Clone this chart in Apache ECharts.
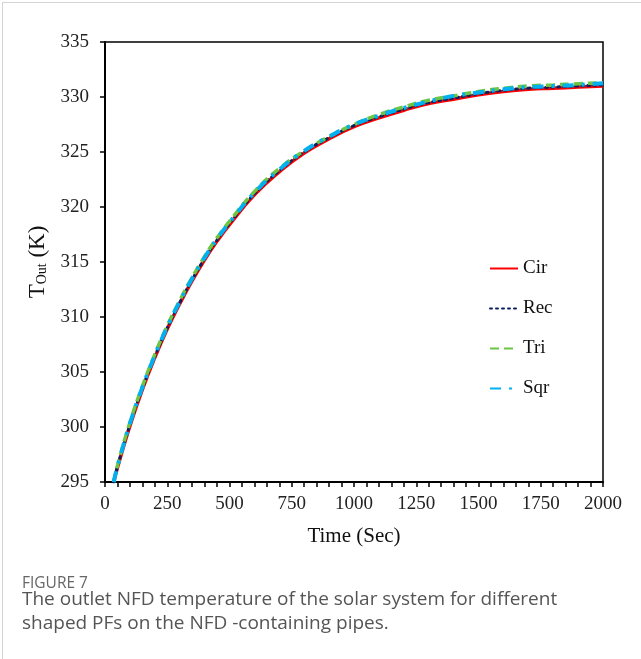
<!DOCTYPE html>
<html lang="en">
<head>
<meta charset="UTF-8">
<title>Figure 7</title>
<style>
  body { margin: 0; background: #fff; }
  #frame { position: absolute; left: 2px; top: 2px; width: 639px; height: 657px;
           border-left: 1px solid #d4d4d4; border-top: 1px solid #d4d4d4; }
  #box { position: absolute; left: 0; top: 0; width: 641px; height: 659px; }
</style>
</head>
<body>
<div id="frame"></div>
<div id="box"></div>
<script src="https://cdn.jsdelivr.net/npm/echarts@6/dist/echarts.min.js"></script>
<script>
    // time (s)
    var times = [35, 50, 100, 150, 200, 250, 300, 350, 400, 450, 500, 600, 700, 800, 900,
                 1000, 1100, 1200, 1300, 1400, 1500, 1600, 1700, 1800, 1900, 2000];
    // outlet temperature (K)
    var cirT = [295.0, 296.3, 300.1, 303.4, 306.3, 308.9, 311.2, 313.3, 315.2, 316.9, 318.4, 321.1, 323.2, 324.9, 326.2,
                327.3, 328.1, 328.8, 329.4, 329.8, 330.2, 330.5, 330.7, 330.8, 330.9, 331.0];
    var recT = [295.0, 296.4, 300.2, 303.5, 306.4, 309.0, 311.3, 313.4, 315.3, 317.0, 318.5, 321.2, 323.3, 325.0, 326.3,
                327.4, 328.2, 328.9, 329.5, 329.9, 330.3, 330.6, 330.8, 330.9, 331.0, 331.1];
    var triT = [295.0, 296.5, 300.4, 303.7, 306.6, 309.2, 311.5, 313.6, 315.5, 317.2, 318.7, 321.4, 323.5, 325.1, 326.4,
                327.5, 328.4, 329.1, 329.7, 330.1, 330.5, 330.8, 331.0, 331.1, 331.2, 331.3];
    var sqrT = [295.0, 296.4, 300.3, 303.6, 306.5, 309.1, 311.4, 313.5, 315.4, 317.1, 318.6, 321.3, 323.4, 325.1, 326.4,
                327.5, 328.3, 329.0, 329.6, 330.1, 330.4, 330.7, 330.9, 331.0, 331.1, 331.25];
    var seriesNames = ['Cir', 'Rec', 'Tri', 'Sqr'];

    function pairs(vals) {
        return times.map(function (t, i) { return [t, vals[i]]; });
    }

    var serif = '"Liberation Serif", "Times New Roman", serif';
    var box = echarts.init(document.getElementById('box'));
    var option = {
        animation: false,
        backgroundColor: 'transparent',
        grid: {
            left: 105, top: 42, right: 38, bottom: 177,
            show: true, borderColor: '#000', borderWidth: 1.5
        },
        legend: {
            orient: 'vertical',
            left: 484, top: 254,
            itemWidth: 28, itemHeight: 14, itemGap: 21,
            itemStyle: { opacity: 0 },
            textStyle: { fontFamily: serif, fontSize: 19, color: '#111' },
            data: seriesNames
        },
        xAxis: {
            type: 'value',
            min: 0, max: 2000, interval: 250,
            name: 'Time (Sec)',
            nameLocation: 'middle', nameGap: 44,
            nameTextStyle: { fontFamily: serif, fontSize: 21, color: '#111' },
            axisLine: { lineStyle: { color: '#000', width: 2 } },
            axisTick: { length: 5, lineStyle: { color: '#000', width: 1.5 } },
            minorTick: { show: true, splitNumber: 5, length: 5, lineStyle: { color: '#000', width: 1.5 } },
            axisLabel: { fontFamily: serif, fontSize: 19, color: '#222', margin: 13, formatter: function (v) { return String(v); } },
            splitLine: { show: false }
        },
        yAxis: {
            type: 'value',
            min: 295, max: 335, interval: 5,
            name: '{a|T}{b|Out}{a| (K)}',
            nameLocation: 'middle', nameGap: 40, nameRotate: 90,
            nameTextStyle: {
                rich: {
                    a: { fontFamily: serif, fontSize: 23, color: '#111', lineHeight: 28, verticalAlign: 'bottom' },
                    b: { fontFamily: serif, fontSize: 14, color: '#111', lineHeight: 28, verticalAlign: 'bottom' }
                }
            },
            axisLine: { show: true, lineStyle: { color: '#000', width: 2 } },
            axisTick: { show: true, length: 5, lineStyle: { color: '#000', width: 1.5 } },
            axisLabel: { fontFamily: serif, fontSize: 19, color: '#222', margin: 16 },
            splitLine: { show: false }
        },
        series: [
            {
                name: 'Cir', type: 'line', showSymbol: false, symbol: 'none', smooth: true,
                itemStyle: { color: '#ff0000' },
                lineStyle: { color: '#ff0000', width: 3.5, type: 'solid' },
                data: pairs(cirT)
            },
            {
                name: 'Rec', type: 'line', showSymbol: false, symbol: 'none', smooth: true,
                itemStyle: { color: '#0a2060' },
                lineStyle: { color: '#0a2060', width: 3, type: [2, 4], cap: 'round' },
                data: pairs(recT)
            },
            {
                name: 'Tri', type: 'line', showSymbol: false, symbol: 'none', smooth: true,
                itemStyle: { color: '#6cc644' },
                lineStyle: { color: '#6cc644', width: 3.5, type: [9, 5] },
                data: pairs(triT)
            },
            {
                name: 'Sqr', type: 'line', showSymbol: false, symbol: 'none', smooth: true,
                itemStyle: { color: '#00b0f0' },
                lineStyle: { color: '#00b0f0', width: 4, type: [11, 8, 3, 8] },
                data: pairs(sqrT)
            }
        ],
        graphic: [
            {
                type: 'text', left: 22, top: 576,
                style: { text: 'FIGURE 7', font: '15.5px "Open Sans", "Noto Sans", sans-serif', fill: '#666' }
            },
            {
                type: 'text', left: 22, top: 588,
                style: {
                    text: 'The outlet NFD temperature of the solar system for different\nshaped PFs on the NFD -containing pipes.',
                    font: '19px "Open Sans", "Noto Sans", sans-serif', fill: '#555', lineHeight: 24
                }
            }
        ]
    };
    box.setOption(option);
</script>
</body>
</html>
